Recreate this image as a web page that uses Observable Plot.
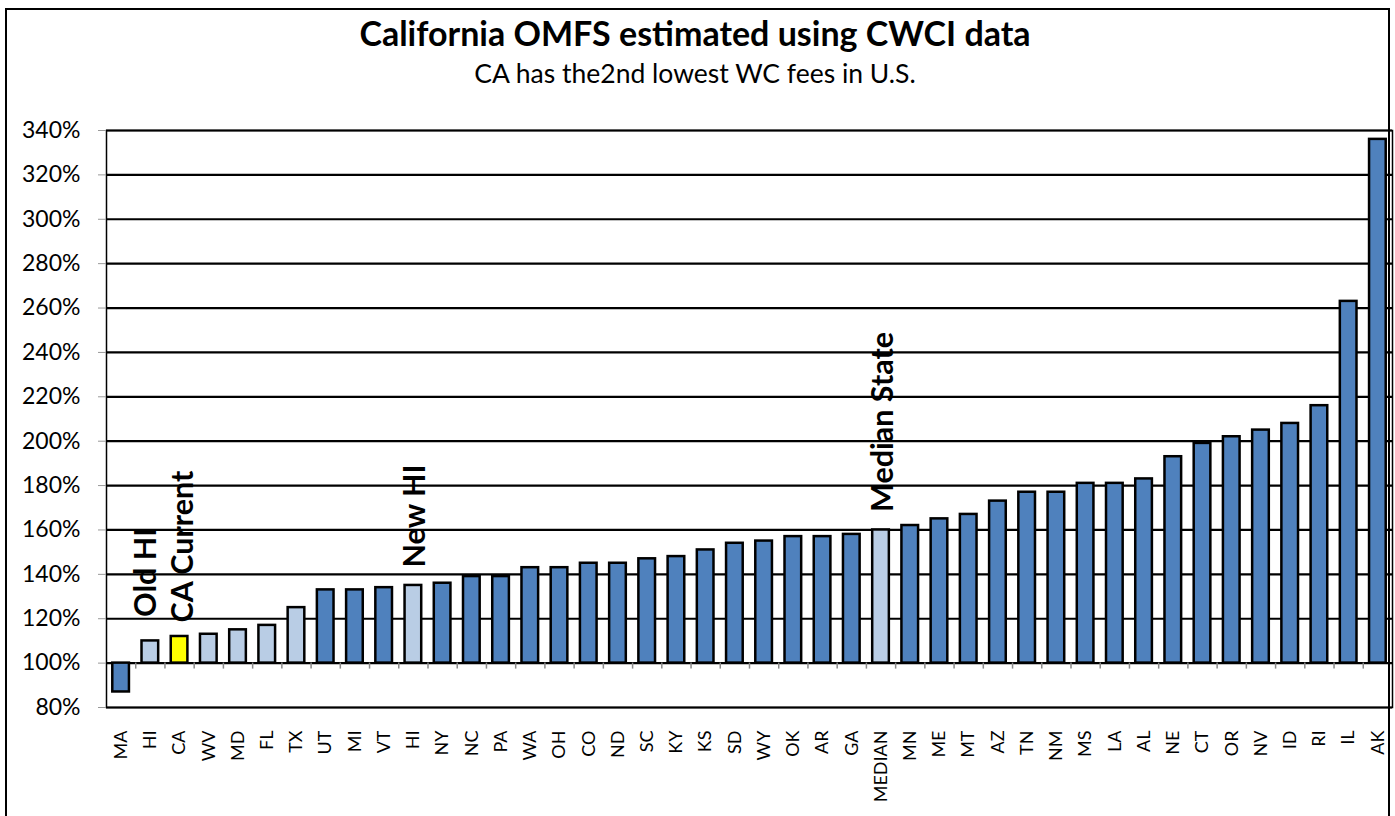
<!DOCTYPE html>
<html>
<head>
<meta charset="utf-8">
<script src="https://cdn.jsdelivr.net/npm/d3@7"></script>
<script src="https://cdn.jsdelivr.net/npm/@observablehq/plot@0.6"></script>
<style>
  html, body { margin: 0; padding: 0; background: #fff; width: 1395px; height: 816px; overflow: hidden; }
  body { font-family: Lato, "Open Sans", sans-serif; position: relative; }
  #frame { position: absolute; left: 5px; top: 8px; width: 1385px; height: 830px; border: 2px solid #000; box-sizing: border-box; }
  #title { position: absolute; left: 0; width: 1390px; top: 13px; text-align: center; font-weight: bold; font-size: 34px; line-height: 1.2; color: #000; white-space: nowrap; }
  #subtitle { position: absolute; left: 0; width: 1390px; top: 58px; text-align: center; font-size: 26.5px; line-height: 1.2; color: #000; white-space: nowrap; }
  #chart { position: absolute; left: 0; top: 110px; }
</style>
</head>
<body>
<div id="frame"></div>
<div id="title">California OMFS estimated using CWCI data</div>
<div id="subtitle">CA has the2nd lowest WC fees in U.S.</div>
<div id="chart"></div>
<script>
// ---- data ----
const states = ["MA","HI","CA","WV","MD","FL","TX","UT","MI","VT","HI","NY","NC","PA","WA","OH","CO","ND","SC","KY","KS","SD","WY","OK","AR","GA","MEDIAN","MN","ME","MT","AZ","TN","NM","MS","LA","AL","NE","CT","OR","NV","ID","RI","IL","AK"];
const values = [0.87,1.10,1.12,1.13,1.15,1.17,1.25,1.33,1.33,1.34,1.35,1.36,1.39,1.39,1.43,1.43,1.45,1.45,1.47,1.48,1.51,1.54,1.55,1.57,1.57,1.58,1.60,1.62,1.65,1.67,1.73,1.77,1.77,1.81,1.81,1.83,1.93,1.99,2.02,2.05,2.08,2.16,2.63,3.36];
const barType = ["dark","light","ca","light","light","light","light","dark","dark","dark","light","dark","dark","dark","dark","dark","dark","dark","dark","dark","dark","dark","dark","dark","dark","dark","light","dark","dark","dark","dark","dark","dark","dark","dark","dark","dark","dark","dark","dark","dark","dark","dark","dark"];
const yTicks = [0.8,1.0,1.2,1.4,1.6,1.8,2.0,2.2,2.4,2.6,2.8,3.0,3.2,3.4];
const baseline = 1.0;
const annotations = [
  {label: "Old HI", index: 1},
  {label: "CA Current", index: 2},
  {label: "New HI", index: 10},
  {label: "Median State", index: 26}
];
const annotationDx = [-4, 4, 2, 2];
const annotationDy = [-24, -14, -18, -18];

const colors = {dark: "#4F81BD", light: "#B9CDE5", ca: "#FFFF00"};
const data = states.map((s, i) => ({i, state: s, value: values[i], type: barType[i]}));
const idx = d3.range(states.length);

const W = 1393, ML = 106, MR = 1;
const step = (W - ML - MR) / states.length;

const annotationMarks = annotations.map((a, k) => Plot.text([a], {
  x: "index",
  y: d => values[d.index],
  text: "label",
  rotate: -90,
  textAnchor: "start",
  lineAnchor: "middle",
  dx: annotationDx[k],
  dy: annotationDy[k],
  fontWeight: "bold",
  fontSize: 30.5,
  fill: "#000"
}));

const chart = Plot.plot({
  width: W,
  height: 697,
  marginLeft: ML,
  marginRight: MR,
  marginTop: 20,
  marginBottom: 100,
  style: {fontFamily: "Lato, 'Open Sans', sans-serif", background: "transparent", overflow: "visible"},
  x: {type: "band", domain: idx, paddingInner: 0.43, paddingOuter: 0.215, round: false},
  y: {domain: [0.8, 3.4]},
  marks: [
    Plot.ruleY(yTicks, {stroke: "#000", strokeWidth: 2.2}),
    Plot.barY(data, {x: "i", y1: baseline, y2: "value", fill: d => colors[d.type], stroke: "#000", strokeWidth: 2.5}),
    Plot.ruleX(idx.slice(1), {x: d => d, y1: baseline, y2: baseline - 0.027, dx: -step / 2, stroke: "#888", strokeWidth: 1.5}),
    Plot.frame({stroke: "#000", strokeWidth: 1.5}),
    Plot.axisY({ticks: yTicks, tickFormat: d3.format(".0%"), tickSize: 8, tickPadding: 18, fontSize: 23, stroke: "#999", fill: "#000", label: null}),
    Plot.axisX({tickFormat: i => states[i], tickRotate: -90, tickSize: 0, tickPadding: 23, fontSize: 18, fill: "#000", label: null}),
    ...annotationMarks
  ]
});
document.getElementById("chart").appendChild(chart);
</script>
</body>
</html>
